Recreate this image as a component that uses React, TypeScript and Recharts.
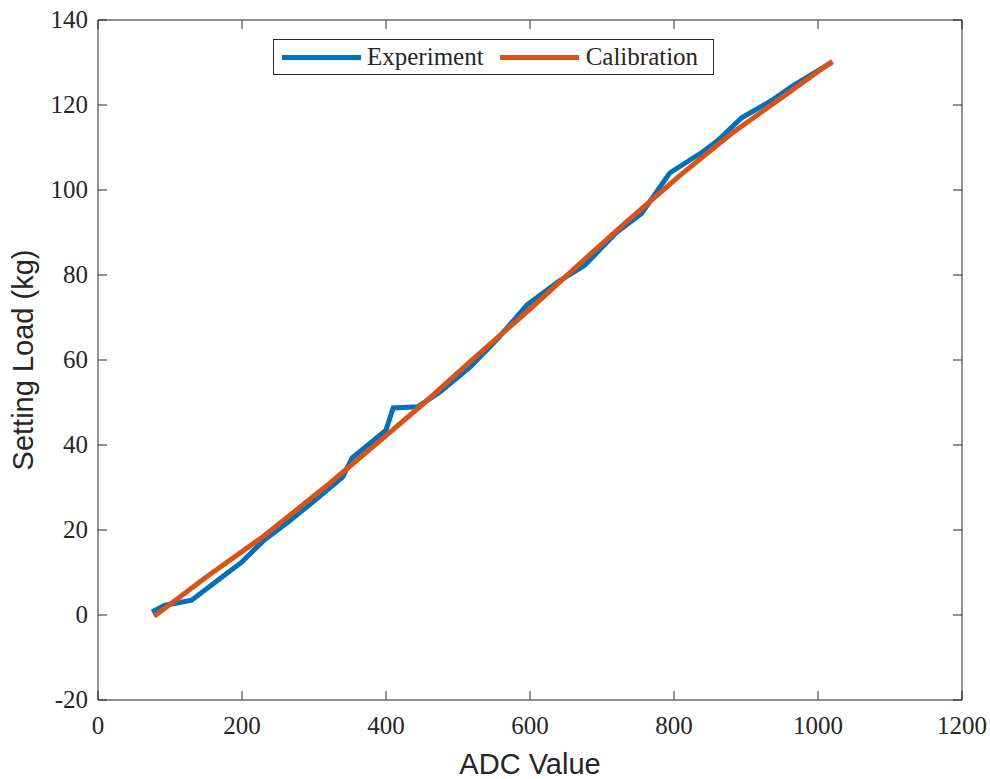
import React from 'react';
import { LineChart, Line, XAxis, YAxis, Label } from 'recharts';

// ADC reading vs. applied load
const EXP_ADC = [75, 93, 130, 165, 200, 230, 265, 300, 340, 353, 375, 400, 410, 444, 475, 517, 555, 596, 640, 676, 720, 755, 794, 840, 860, 894, 935, 965, 1019];
const EXP_LOAD = [0.7, 2.3, 3.5, 8, 12.5, 17.5, 22, 26.8, 32.5, 37, 40, 43.5, 48.7, 49, 52.5, 58.4, 65, 73, 78.5, 82.3, 90, 94.5, 104, 109, 111.5, 117, 121, 124.5, 130];

const CAL_ADC = [78, 150, 229, 322, 400, 447, 517, 600, 680, 734, 808, 880, 950, 1020];
const CAL_LOAD = [-0.3, 8.9, 18.4, 31, 42.2, 49, 59.6, 72, 84.3, 92.5, 103.4, 113.3, 121.8, 130.3];

const X_TICKS = [0, 200, 400, 600, 800, 1000, 1200];
const Y_TICKS = [-20, 0, 20, 40, 60, 80, 100, 120, 140];

const expData = EXP_ADC.map((x, i) => ({ x, y: EXP_LOAD[i] }));
const calData = CAL_ADC.map((x, i) => ({ x, y: CAL_LOAD[i] }));

const AXIS = '#262626';
const BLUE = '#0072BD';
const ORANGE = '#D95319';
const SERIF = '"Liberation Serif", "Times New Roman", serif';
const SANS = '"Liberation Sans", Arial, sans-serif';

const BottomTick = (p: any) => (
  <g>
    <line x1={p.x} y1={p.y} x2={p.x} y2={p.y - 9} stroke={AXIS} strokeWidth={1} />
    <text x={p.x} y={p.y + 34} textAnchor="middle" fontFamily={SERIF} fontSize={25} fill={AXIS}>
      {p.payload.value}
    </text>
  </g>
);

const LeftTick = (p: any) => (
  <g>
    <line x1={p.x} y1={p.y} x2={p.x + 9} y2={p.y} stroke={AXIS} strokeWidth={1} />
    <text x={p.x - 10} y={p.y + 8} textAnchor="end" fontFamily={SERIF} fontSize={25} fill={AXIS}>
      {p.payload.value}
    </text>
  </g>
);

const TopTick = (p: any) => (
  <line x1={p.x} y1={p.y} x2={p.x} y2={p.y + 9} stroke={AXIS} strokeWidth={1} />
);

const RightTick = (p: any) => (
  <line x1={p.x} y1={p.y} x2={p.x - 9} y2={p.y} stroke={AXIS} strokeWidth={1} />
);

const XTitle = () => (
  <text x={530} y={774} textAnchor="middle" fontFamily={SANS} fontSize={29} fill={AXIS}>
    ADC Value
  </text>
);

const YTitle = () => (
  <text x={33} y={360} transform="rotate(-90, 33, 360)" textAnchor="middle" fontFamily={SANS} fontSize={29} fill={AXIS}>
    Setting Load (kg)
  </text>
);

const LegendBox = () => (
  <div
    style={{
      position: 'absolute', left: 273, top: 39, width: 441, height: 36, boxSizing: 'border-box',
      border: `1px solid ${AXIS}`, background: '#fff', display: 'flex', alignItems: 'center',
      fontFamily: SERIF, fontSize: 25, color: AXIS,
    }}
  >
    <div style={{ marginLeft: 8, width: 79, height: 5, background: BLUE }} />
    <span style={{ marginLeft: 6 }}>Experiment</span>
    <div style={{ marginLeft: 16, width: 79, height: 5, background: ORANGE }} />
    <span style={{ marginLeft: 7 }}>Calibration</span>
  </div>
);

export default function App() {
  return (
    <div style={{ position: 'absolute', left: 0, top: 0, width: 990, height: 779, background: '#fff' }}>
      <LineChart width={990} height={779} margin={{ top: 19, right: 27, bottom: 0, left: 0 }}>
        <XAxis
          dataKey="x" type="number" domain={[0, 1200]} ticks={X_TICKS} allowDataOverflow
          height={79} tickSize={0} tickMargin={0} tickLine={false}
          axisLine={{ stroke: AXIS }} tick={BottomTick} interval={0}
        >
          <Label content={XTitle} />
        </XAxis>
        <XAxis
          xAxisId="top" orientation="top" dataKey="x" type="number" domain={[0, 1200]} ticks={X_TICKS}
          allowDataOverflow height={1} tickSize={0} tickMargin={0} tickLine={false}
          axisLine={{ stroke: AXIS }} tick={TopTick} interval={0}
        />
        <YAxis
          dataKey="y" type="number" domain={[-20, 140]} ticks={Y_TICKS} allowDataOverflow
          width={98} tickSize={0} tickMargin={0} tickLine={false}
          axisLine={{ stroke: AXIS }} tick={LeftTick} interval={0}
        >
          <Label content={YTitle} />
        </YAxis>
        <YAxis
          yAxisId="right" orientation="right" dataKey="y" type="number" domain={[-20, 140]} ticks={Y_TICKS}
          allowDataOverflow width={1} tickSize={0} tickMargin={0} tickLine={false}
          axisLine={{ stroke: AXIS }} tick={RightTick} interval={0}
        />
        {/* invisible series so the frame axes (top/right) get drawn */}
        <Line
          data={calData} dataKey="y" xAxisId="top" yAxisId="right" stroke="none" dot={false}
          activeDot={false} legendType="none" isAnimationActive={false}
        />
        <Line data={expData} dataKey="y" stroke={BLUE} strokeWidth={5} dot={false} type="linear" isAnimationActive={false} />
        <Line data={calData} dataKey="y" stroke={ORANGE} strokeWidth={5} dot={false} type="linear" isAnimationActive={false} />
      </LineChart>
      <LegendBox />
    </div>
  );
}
